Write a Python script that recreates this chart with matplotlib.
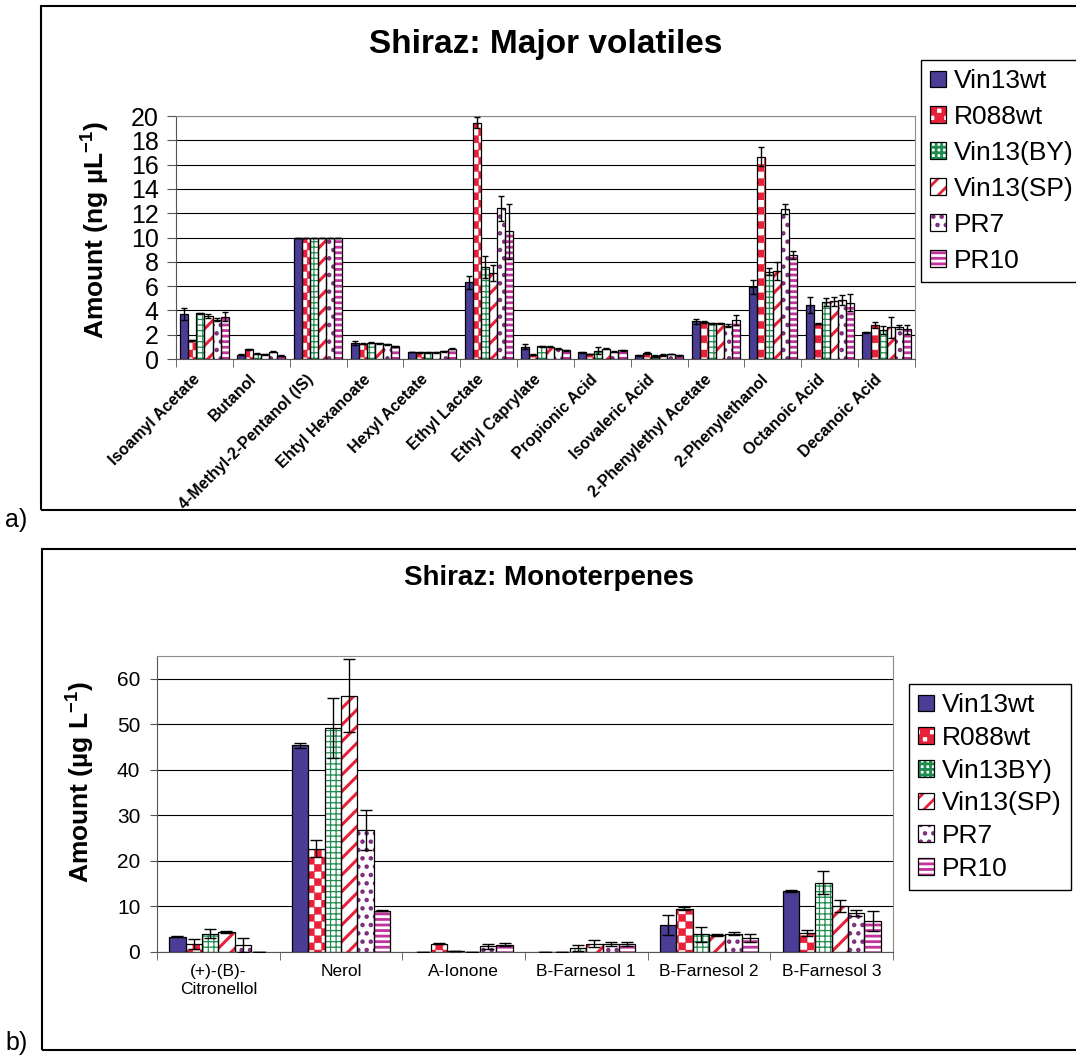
import warnings
import numpy as np
import matplotlib
matplotlib.use('Agg')
import matplotlib.pyplot as plt
import matplotlib.transforms as mtransforms
from matplotlib import hatch as mhatch
from matplotlib.path import Path
from matplotlib.patches import Rectangle

warnings.filterwarnings('ignore')

plt.rcParams['font.family'] = ['Liberation Sans', 'DejaVu Sans']
plt.rcParams['mathtext.fontset'] = 'custom'
plt.rcParams['mathtext.rm'] = 'Liberation Sans'
plt.rcParams['mathtext.bf'] = 'Liberation Sans:bold'

# ---- data: a) major volatiles (ng/uL) ----
cats_top = ['Isoamyl Acetate', 'Butanol', '4-Methyl-2-Pentanol (IS)', 'Ehtyl Hexanoate',
            'Hexyl Acetate', 'Ethyl Lactate', 'Ethyl Caprylate', 'Propionic Acid',
            'Isovaleric Acid', '2-Phenylethyl Acetate', '2-Phenylethanol',
            'Octanoic Acid', 'Decanoic Acid']
labels_top = ['Vin13wt', 'R088wt', 'Vin13(BY)', 'Vin13(SP)', 'PR7', 'PR10']

vin13wt_top = [3.7, 0.35, 10, 1.3, 0.57, 6.3, 1.0, 0.57, 0.3, 3.1, 5.9, 4.45, 2.2]
vin13wt_top_err = [0.5, 0.05, 0, 0.15, 0.03, 0.5, 0.2, 0.05, 0.03, 0.2, 0.57, 0.68, 0.05]
r088wt_top = [1.55, 0.8, 10, 1.25, 0.55, 19.45, 0.35, 0.42, 0.5, 3.05, 16.65, 2.9, 2.8]
r088wt_top_err = [0.05, 0.03, 0, 0.05, 0.03, 0.45, 0.03, 0.03, 0.1, 0.05, 0.8, 0.05, 0.25]
by_top = [3.75, 0.45, 10, 1.35, 0.55, 7.6, 1.05, 0.7, 0.25, 2.95, 7.2, 4.7, 2.4]
by_top_err = [0.05, 0.03, 0, 0.05, 0.03, 0.9, 0.05, 0.3, 0.05, 0.05, 0.3, 0.35, 0.3]
sp_top = [3.55, 0.4, 10, 1.3, 0.55, 7.1, 1.0, 0.85, 0.33, 2.95, 7.25, 4.75, 2.6]
sp_top_err = [0.15, 0.03, 0, 0.05, 0.03, 0.65, 0.05, 0.05, 0.05, 0.05, 0.75, 0.35, 0.85]
pr7_top = [3.25, 0.62, 10, 1.2, 0.65, 12.4, 0.85, 0.62, 0.42, 2.75, 12.35, 4.85, 2.65]
pr7_top_err = [0.15, 0.03, 0, 0.05, 0.05, 1.0, 0.05, 0.05, 0.03, 0.1, 0.4, 0.4, 0.15]
pr10_top = [3.5, 0.27, 10, 1.05, 0.85, 10.5, 0.72, 0.72, 0.3, 3.2, 8.6, 4.65, 2.45]
pr10_top_err = [0.35, 0.03, 0, 0.05, 0.05, 2.25, 0.05, 0.05, 0.03, 0.4, 0.33, 0.7, 0.35]

# ---- data: b) monoterpenes (ug/L) ----
cats_bot = ['(+)-(B)-\nCitronellol', 'Nerol', 'A-Ionone', 'B-Farnesol 1',
            'B-Farnesol 2', 'B-Farnesol 3']
labels_bot = ['Vin13wt', 'R088wt', 'Vin13BY)', 'Vin13(SP)', 'PR7', 'PR10']

vin13wt_bot = [3.4, 45.4, 0, 0, 5.9, 13.4]
vin13wt_bot_err = [0.1, 0.5, 0, 0, 2.2, 0.15]
r088wt_bot = [1.7, 22.7, 1.8, 0, 9.5, 4.25]
r088wt_bot_err = [1.1, 1.9, 0.1, 0, 0.35, 0.65]
by_bot = [4.0, 49.2, 0.2, 0.95, 3.9, 15.2]
by_bot_err = [0.95, 6.5, 0.05, 0.65, 1.6, 2.55]
sp_bot = [4.4, 56.3, 0, 1.85, 3.75, 10.1]
sp_bot_err = [0.3, 8.0, 0, 0.7, 0.3, 1.35]
pr7_bot = [1.6, 26.7, 1.25, 1.7, 4.0, 8.55]
pr7_bot_err = [1.5, 4.4, 0.6, 0.4, 0.3, 0.7]
pr10_bot = [0.05, 9.1, 1.6, 1.7, 3.15, 6.8]
pr10_bot_err = [0, 0.2, 0.3, 0.4, 0.9, 2.2]

# ---- styles (Excel-like pattern fills) ----
face_cols = ['#4B3D96', 'white', 'white', 'white', 'white', 'white']
hatch_cols = ['#4B3D96', '#E8203A', '#1E8C4E', '#E8203A', '#7B2C7B', '#C1329B']
hatches = [None, 'c', '+++', '//', '..', '---']
hatch_lws = [1.0, 0.3, 0.9, 2.2, 2.0, 2.0]


# checkerboard pattern, used with hatch char 'c'
class CheckerHatch(mhatch.HatchPatternBase):
    def __init__(self, hatch, density):
        self.n = hatch.count('c') * 14
        self.num_vertices = self.n * self.n // 2 * 5

    def set_vertices_and_codes(self, vertices, codes):
        s = 1.0 / self.n
        k = 0
        for i in range(self.n):
            for j in range(self.n):
                if (i + j) % 2:
                    continue
                x, y = i * s, j * s
                vertices[k:k + 5] = [(x, y), (x + s, y), (x + s, y + s), (x, y + s), (x, y)]
                codes[k:k + 5] = [Path.MOVETO, Path.LINETO, Path.LINETO, Path.LINETO, Path.CLOSEPOLY]
                k += 5


mhatch._hatch_types.append(CheckerHatch)


def draw_bars(ax, values, errors, group_width, capsize):
    x = np.arange(len(values[0]))
    w = group_width / len(values)
    handles = []
    for k, (vals, errs) in enumerate(zip(values, errors)):
        pos = x + (k - (len(values) - 1) / 2) * w
        plt.rcParams['hatch.linewidth'] = hatch_lws[k]
        fill = ax.bar(pos, vals, w, color=face_cols[k], edgecolor=hatch_cols[k],
                      hatch=hatches[k], linewidth=0, zorder=2)
        for p in fill:
            if hasattr(p, 'set_hatch_linewidth'):
                p.set_hatch_linewidth(hatch_lws[k])
        edge = ax.bar(pos, vals, w, fill=False, edgecolor='black', linewidth=0.9,
                      yerr=errs, capsize=capsize,
                      error_kw=dict(elinewidth=1, capthick=1, ecolor='black'), zorder=3)
        handles.append((fill, edge))
    return handles


def style_axes(ax, n, ymax, ystep):
    ax.set_xlim(-0.5, n - 0.5)
    ax.set_ylim(0, ymax)
    ax.set_yticks(np.arange(0, ymax + 0.01, ystep))
    ax.yaxis.grid(True, color='black', linewidth=0.8)
    ax.set_axisbelow(True)
    for s in ax.spines.values():
        s.set_color('#8c8c8c')
    ax.spines['left'].set_color('#555555')
    ax.spines['bottom'].set_color('#555555')
    ax.set_xticks(np.arange(n + 1) - 0.5, minor=True)
    ax.set_xticks(np.arange(n))
    ax.tick_params(axis='x', which='major', length=0)
    ax.tick_params(axis='x', which='minor', length=6, color='#555555')
    ax.tick_params(axis='y', color='#555555')


fig = plt.figure(figsize=(10.76, 10.56), dpi=100)

# outer frames
fig.patches.append(Rectangle((0.0381, 0.517), 1.0, 0.4773, transform=fig.transFigure,
                             fill=False, edgecolor='black', linewidth=1.5))
fig.patches.append(Rectangle((0.039, 0.0057), 1.0, 0.4744, transform=fig.transFigure,
                             fill=False, edgecolor='black', linewidth=1.5))

# ---- panel a ----
ax1 = fig.add_axes([0.1636, 0.66, 0.6868, 0.2301])
vals = [vin13wt_top, r088wt_top, by_top, sp_top, pr7_top, pr10_top]
errs = [vin13wt_top_err, r088wt_top_err, by_top_err, sp_top_err, pr7_top_err, pr10_top_err]
h1 = draw_bars(ax1, vals, errs, 0.85, 2.5)
style_axes(ax1, len(cats_top), 20, 2)
ax1.set_xticklabels(cats_top, rotation=45, ha='right', rotation_mode='anchor',
                    fontsize=11.5, fontweight='bold')
ax1.tick_params(axis='x', which='major', pad=9)
shift = mtransforms.ScaledTranslation(-0.12, 0, fig.dpi_scale_trans)
for lab in ax1.get_xticklabels():
    lab.set_transform(lab.get_transform() + shift)
ax1.tick_params(axis='y', labelsize=18, length=6.5, pad=6)
fig.text(0.507, 1 - 45 / 1056, 'Shiraz: Major volatiles', ha='center', va='center',
         fontsize=24, fontweight='bold')
fig.text(95 / 1076, 1 - 230 / 1056, r'Amount (ng µL$^{\mathbf{-1}}$)', rotation=90,
         ha='center', va='center', fontsize=19, fontweight='bold')
fig.legend(h1, labels_top, loc='upper left', bbox_to_anchor=(921 / 1076, 1 - 60 / 1056),
           fontsize=19, frameon=True, fancybox=False, edgecolor='black', framealpha=1,
           handlelength=0.6, handleheight=0.6, handletextpad=0.3, labelspacing=0.45,
           borderpad=0.35, borderaxespad=0)
fig.text(0.005, 1 - 520 / 1056, 'a)', ha='left', va='center', fontsize=18)

# ---- panel b ----
ax2 = fig.add_axes([0.1459, 0.0985, 0.684, 0.2803])
vals = [vin13wt_bot, r088wt_bot, by_bot, sp_bot, pr7_bot, pr10_bot]
errs = [vin13wt_bot_err, r088wt_bot_err, by_bot_err, sp_bot_err, pr7_bot_err, pr10_bot_err]
h2 = draw_bars(ax2, vals, errs, 0.8, 4)
style_axes(ax2, len(cats_bot), 65, 10)
ax2.set_xticklabels(cats_bot, fontsize=12.5)
ax2.tick_params(axis='x', which='major', pad=9)
ax2.tick_params(axis='y', labelsize=15, length=5, pad=7)
fig.text(0.51, 1 - 578 / 1056, 'Shiraz: Monoterpenes', ha='center', va='center',
         fontsize=20, fontweight='bold')
fig.text(80 / 1076, 1 - 782 / 1056, r'Amount (µg L$^{\mathbf{-1}}$)', rotation=90,
         ha='center', va='center', fontsize=19, fontweight='bold')
fig.legend(h2, labels_bot, loc='upper left', bbox_to_anchor=(909 / 1076, 1 - 684 / 1056),
           fontsize=19, frameon=True, fancybox=False, edgecolor='black', framealpha=1,
           handlelength=0.6, handleheight=0.6, handletextpad=0.3, labelspacing=0.33,
           borderpad=0.35, borderaxespad=0)
fig.text(0.005, 1 - 1043 / 1056, 'b)', ha='left', va='center', fontsize=18)

fig.savefig('out.png', dpi=100)
